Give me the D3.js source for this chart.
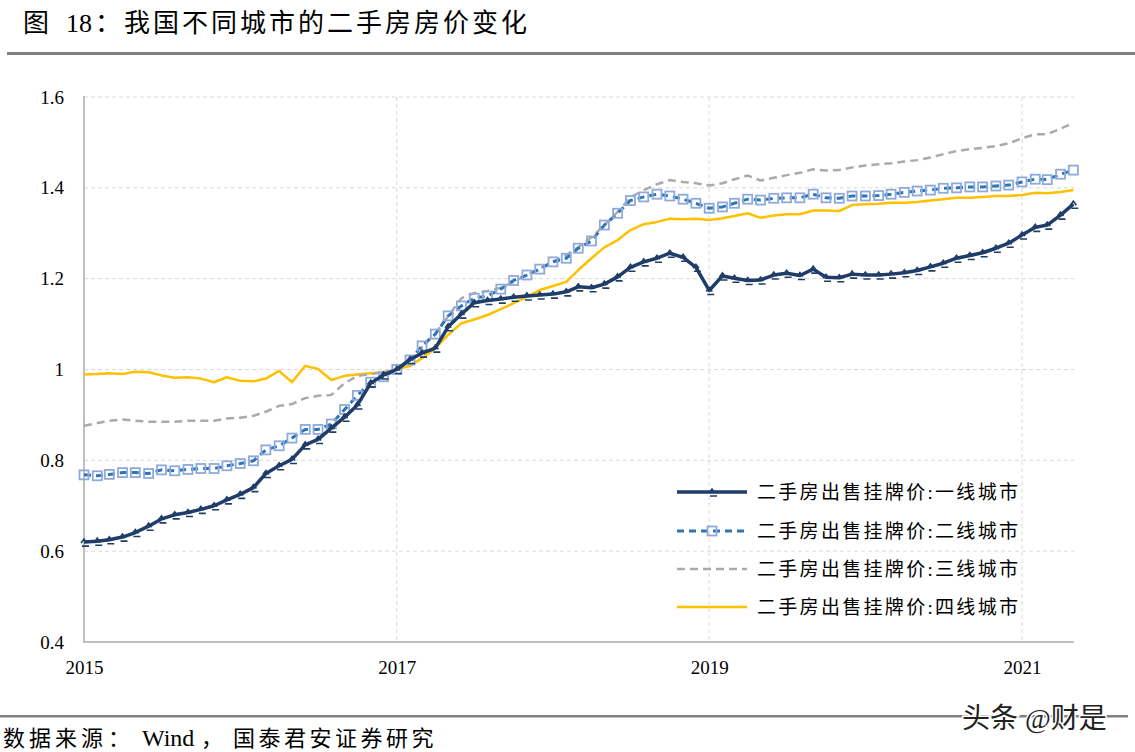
<!DOCTYPE html>
<html>
<head>
<meta charset="utf-8">
<script src="https://cdn.jsdelivr.net/npm/d3@7"></script>
<style>
  body { margin: 0; background: #fff; }
  text { font-family: "Liberation Serif", "Noto Sans CJK SC", serif; }
  .cjk { font-family: "Liberation Serif", "Noto Sans CJK SC", serif; }
</style>
</head>
<body>
<script>
const w = 1135;
const h = 752;

// monthly, Jan 2015 .. May 2021
const months = d3.timeMonths(new Date(2015, 0, 1), new Date(2021, 5, 1));

const tier1 = [
	0.620, 0.622, 0.625, 0.631, 0.641, 0.655, 0.671, 0.680, 0.685, 0.692, 0.700, 0.713, 0.725,
	0.740, 0.771, 0.788, 0.802, 0.834, 0.846, 0.871, 0.895, 0.922, 0.970, 0.988, 1.000, 1.022,
	1.036, 1.047, 1.094, 1.122, 1.147, 1.152, 1.155, 1.159, 1.162, 1.164, 1.166, 1.171, 1.182,
	1.180, 1.188, 1.204, 1.225, 1.237, 1.245, 1.256, 1.247, 1.225, 1.174, 1.206, 1.201,
	1.196, 1.197, 1.208, 1.212, 1.207, 1.221, 1.203, 1.202, 1.210, 1.208, 1.208, 1.210, 1.213,
	1.218, 1.226, 1.234, 1.245, 1.251, 1.257, 1.267, 1.278, 1.296, 1.313, 1.318, 1.340, 1.364
];
const tier2 = [
	0.768, 0.766, 0.769, 0.773, 0.773, 0.771, 0.779, 0.777, 0.780, 0.782, 0.782, 0.788, 0.793,
	0.799, 0.823, 0.832, 0.849, 0.868, 0.868, 0.880, 0.912, 0.943, 0.972, 0.984, 1.000, 1.021,
	1.052, 1.078, 1.118, 1.140, 1.157, 1.162, 1.177, 1.196, 1.208, 1.221, 1.237, 1.245, 1.267,
	1.283, 1.318, 1.344, 1.372, 1.380, 1.386, 1.382, 1.375, 1.366, 1.355, 1.358, 1.366,
	1.375, 1.373, 1.377, 1.378, 1.378, 1.386, 1.378, 1.377, 1.382, 1.382, 1.383, 1.386, 1.390,
	1.393, 1.395, 1.399, 1.400, 1.402, 1.402, 1.404, 1.406, 1.413, 1.419, 1.418, 1.430, 1.439
];
const tier3 = [
	0.876, 0.882, 0.887, 0.890, 0.887, 0.885, 0.885, 0.885, 0.887, 0.887, 0.887, 0.892, 0.894,
	0.898, 0.907, 0.920, 0.924, 0.937, 0.942, 0.944, 0.970, 0.986, 0.990, 0.994, 1.000, 1.022,
	1.050, 1.080, 1.117, 1.157, 1.168, 1.173, 1.180, 1.193, 1.208, 1.223, 1.237, 1.252, 1.269,
	1.291, 1.318, 1.347, 1.379, 1.395, 1.408, 1.417, 1.413, 1.410, 1.405, 1.410, 1.419,
	1.427, 1.416, 1.422, 1.428, 1.433, 1.441, 1.438, 1.439, 1.445, 1.449, 1.452, 1.454, 1.458,
	1.461, 1.467, 1.474, 1.481, 1.485, 1.488, 1.492, 1.498, 1.509, 1.518, 1.518, 1.530, 1.543
];
const tier4 = [
	0.989, 0.990, 0.992, 0.990, 0.995, 0.994, 0.987, 0.982, 0.983, 0.980, 0.972, 0.983, 0.975,
	0.974, 0.980, 0.997, 0.972, 1.008, 1.001, 0.977, 0.986, 0.989, 0.992, 0.994, 1.000, 1.008,
	1.025, 1.047, 1.076, 1.102, 1.110, 1.120, 1.133, 1.146, 1.160, 1.175, 1.184, 1.193, 1.219,
	1.245, 1.269, 1.285, 1.307, 1.320, 1.325, 1.332, 1.331, 1.332, 1.329, 1.333, 1.338,
	1.344, 1.334, 1.339, 1.342, 1.342, 1.350, 1.350, 1.349, 1.362, 1.364, 1.365, 1.367, 1.367,
	1.369, 1.372, 1.375, 1.378, 1.378, 1.380, 1.382, 1.382, 1.384, 1.389, 1.388, 1.391, 1.395
];

const seriesNames = [
	'二手房出售挂牌价:一线城市',
	'二手房出售挂牌价:二线城市',
	'二手房出售挂牌价:三线城市',
	'二手房出售挂牌价:四线城市'
];
const yTicks = [0.4, 0.6, 0.8, 1, 1.2, 1.4, 1.6];
const xTicks = [2015, 2017, 2019, 2021];

// title and source split into runs so the latin parts keep normal spacing
const titleRuns = [
	{ t: '图', x: 23, ls: 0 },
	{ t: '18', x: 66, ls: 0 },
	{ t: '：', x: 95, ls: 0 },
	{ t: '我国不同城市的二手房房价变化', x: 124, ls: 3 }
];
const sourceRuns = [
	{ t: '数据来源', x: 3, ls: 4 },
	{ t: '：', x: 108, ls: 0 },
	{ t: 'Wind', x: 142, ls: 0 },
	{ t: '，', x: 201, ls: 0 },
	{ t: '国泰君安证券研究', x: 233, ls: 3.5 }
];

const margin = { top: 97, left: 84, right: 61, bottom: 110 };

const x = d3
	.scaleTime()
	.domain([ new Date(2015, 0, 1), new Date(2021, 0, 1) ])
	.range([ margin.left, 1022 ]);
const xEnd = 1074;
const y = d3.scaleLinear().domain([ 0.4, 1.6 ]).range([ h - margin.bottom, margin.top ]);

const svg = d3.select('body').append('svg').attr('width', w).attr('height', h);

// title + rules
const tt = svg.append('text').attr('class', 'cjk').attr('y', 32).attr('font-size', 26).attr('fill', '#000');
titleRuns.forEach(function(r) {
	tt.append('tspan').attr('x', r.x).attr('letter-spacing', r.ls).text(r.t);
});
svg.append('rect').attr('x', 7).attr('y', 52).attr('width', w - 7).attr('height', 3).attr('fill', '#808080');
svg.append('rect').attr('x', 0).attr('y', 715).attr('width', 1128).attr('height', 2.5).attr('fill', '#808080');
const st = svg.append('text').attr('class', 'cjk').attr('y', 746).attr('font-size', 22).attr('fill', '#000');
sourceRuns.forEach(function(r) {
	st
		.append('tspan')
		.attr('x', r.x)
		.attr('letter-spacing', r.ls)
		.attr('font-size', r.t === 'Wind' ? 24 : 22)
		.text(r.t);
});

// gridlines
const grid = svg.append('g').attr('stroke', '#d9d9d9').attr('stroke-width', 1).attr('stroke-dasharray', '4,3');
grid
	.selectAll('.hgrid')
	.data(yTicks.filter((d) => d > 0.4))
	.enter()
	.append('line')
	.attr('x1', margin.left)
	.attr('x2', xEnd)
	.attr('y1', (d) => y(d))
	.attr('y2', (d) => y(d));
grid
	.selectAll('.vgrid')
	.data(xTicks.slice(1))
	.enter()
	.append('line')
	.attr('x1', (d) => x(new Date(d, 0, 1)))
	.attr('x2', (d) => x(new Date(d, 0, 1)))
	.attr('y1', y(1.6))
	.attr('y2', y(0.4));

// axes
const yAxis = d3
	.axisLeft(y)
	.tickValues(yTicks)
	.tickSize(0)
	.tickPadding(20)
	.tickFormat((d) => (d === 1 ? '1' : d3.format('.1f')(d)));
const gy = svg.append('g').attr('transform', 'translate(' + margin.left + ',0)').call(yAxis);
gy.select('.domain').remove();
gy.selectAll('text').attr('font-size', 19).attr('font-family', 'Liberation Serif').attr('fill', '#000');

const xAxis = d3
	.axisBottom(x)
	.tickValues(xTicks.map((d) => new Date(d, 0, 1)))
	.tickSize(0)
	.tickPadding(19)
	.tickFormat(d3.timeFormat('%Y'));
const gx = svg.append('g').attr('transform', 'translate(0,' + y(0.4) + ')').call(xAxis);
gx.select('.domain').remove();
gx.selectAll('text').attr('font-size', 19).attr('font-family', 'Liberation Serif').attr('fill', '#000');

svg
	.append('line')
	.attr('x1', margin.left)
	.attr('x2', margin.left)
	.attr('y1', y(1.6) - 1)
	.attr('y2', y(0.4))
	.attr('stroke', '#bfbfbf')
	.attr('stroke-width', 2);
svg
	.append('line')
	.attr('x1', margin.left - 1)
	.attr('x2', xEnd)
	.attr('y1', y(0.4))
	.attr('y2', y(0.4))
	.attr('stroke', '#bfbfbf')
	.attr('stroke-width', 2);

// lines
const styles = [
	{ color: '#1f3d68', width: 3.5, dash: null },
	{ color: '#2e75b6', width: 3, dash: '7,5' },
	{ color: '#aaaaaa', width: 2.5, dash: '8,5' },
	{ color: '#ffc000', width: 2.5, dash: null }
];
const allSeries = [ tier1, tier2, tier3, tier4 ];
const drawOrder = [ 3, 2, 1, 0 ];

const line = d3.line().x((d, i) => x(months[i])).y((d) => y(d));

drawOrder.forEach(function(k) {
	const s = styles[k];
	svg
		.append('path')
		.datum(allSeries[k])
		.attr('fill', 'none')
		.attr('stroke', s.color)
		.attr('stroke-width', s.width)
		.attr('stroke-linejoin', 'round')
		.attr('stroke-dasharray', s.dash)
		.attr('d', line);

	if (k === 1) {
		svg
			.selectAll('.sq')
			.data(tier2)
			.enter()
			.append('rect')
			.attr('class', 'sq')
			.attr('x', (d, i) => x(months[i]) - 4.5)
			.attr('y', (d) => y(d) - 4.5)
			.attr('width', 9)
			.attr('height', 9)
			.attr('fill', 'none')
			.attr('stroke', '#8eaadc')
			.attr('stroke-width', 1.8);
	}
});

// tier1 markers: small caret with a dash under it
function caret(cx, cy) {
	return (
		'M' + (cx - 3) + ',' + (cy + 1) + 'L' + cx + ',' + (cy - 3) + 'L' + (cx + 3) + ',' + (cy + 1) +
		'M' + (cx - 2) + ',' + (cy + 4) + 'L' + (cx + 5) + ',' + (cy + 4)
	);
}
svg
	.selectAll('.mk')
	.data(tier1)
	.enter()
	.append('path')
	.attr('class', 'mk')
	.attr('d', (d, i) => caret(x(months[i]), y(d)))
	.attr('fill', 'none')
	.attr('stroke', '#1f3d68')
	.attr('stroke-width', 1.6);

// legend
const legY = [ 492, 531, 569, 607 ];
const leg = svg.append('g');
seriesNames.forEach(function(name, k) {
	const s = styles[k];
	leg
		.append('line')
		.attr('x1', 677)
		.attr('x2', 747)
		.attr('y1', legY[k])
		.attr('y2', legY[k])
		.attr('stroke', s.color)
		.attr('stroke-width', s.width)
		.attr('stroke-dasharray', s.dash);
	if (k === 0) {
		leg.append('path').attr('d', caret(712, legY[k])).attr('fill', 'none').attr('stroke', s.color).attr('stroke-width', 1.6);
	}
	if (k === 1) {
		leg
			.append('rect')
			.attr('x', 707.5)
			.attr('y', legY[k] - 4.5)
			.attr('width', 9)
			.attr('height', 9)
			.attr('fill', 'none')
			.attr('stroke', '#8eaadc')
			.attr('stroke-width', 1.8);
	}
	leg
		.append('text')
		.attr('class', 'cjk')
		.attr('x', 757)
		.attr('y', legY[k] + 7)
		.attr('font-size', 19)
		.attr('textLength', 261)
		.attr('lengthAdjust', 'spacing')
		.attr('fill', '#000')
		.text(name);
});

// watermark
svg
	.append('text')
	.attr('x', 962)
	.attr('y', 728)
	.attr('font-family', 'Noto Sans CJK SC')
	.attr('font-size', 28)
	.attr('fill', '#222')
	.attr('stroke', '#fff')
	.attr('stroke-width', 3)
	.attr('paint-order', 'stroke')
	.text('头条 @财是');
</script>
</body>
</html>
